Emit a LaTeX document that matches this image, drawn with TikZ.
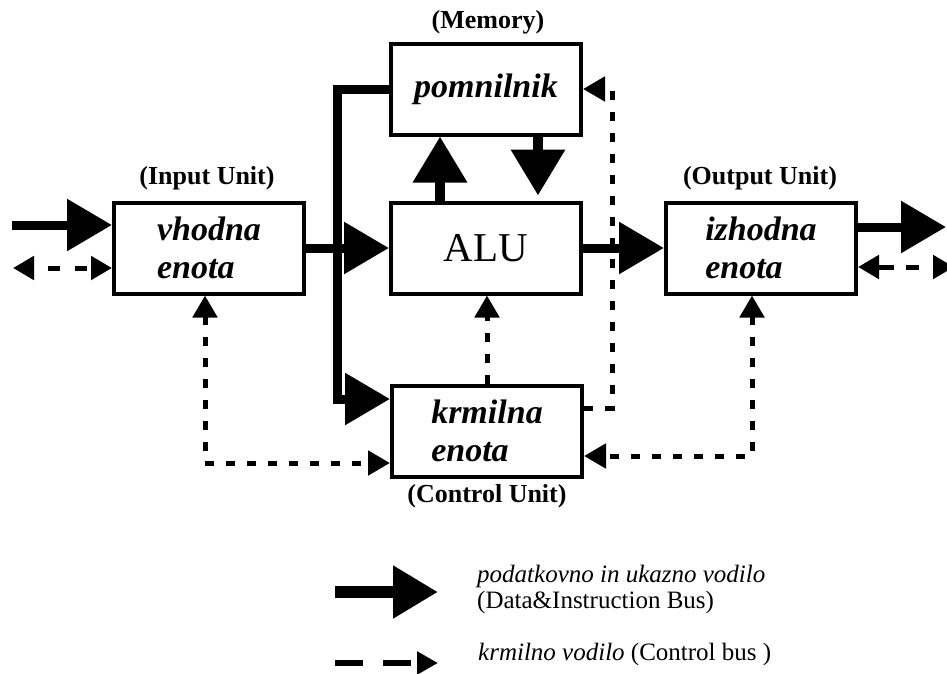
\documentclass[tikz,border=0pt]{standalone}
\usepackage{fontspec}
\setmainfont{Liberation Serif}
\usetikzlibrary{arrows.meta}

\tikzset{
  BTip/.tip={Triangle[length=45pt,width=50pt]},
  MTip/.tip={Triangle[length=46pt,width=52pt]},
  CTip/.tip={Triangle[length=22pt,width=24pt]},
  STip/.tip={Triangle[length=21pt,width=23pt]},
  unit/.style={draw, line width=4pt, minimum width=190pt, minimum height=91pt,
    inner sep=0pt, align=left, font=\fontsize{34}{38}\selectfont\bfseries\itshape},
  caption/.style={inner sep=0pt, font=\fontsize{26}{30}\selectfont\bfseries},
  databus/.style={line width=9pt, -BTip},
  membus/.style={line width=10pt, -MTip},
  ctrlbus/.style={line width=5pt, dash pattern=on 9pt off 12pt},
  iobus/.style={line width=5pt, STip-STip},
  legendtext/.style={inner sep=0pt, align=left,
    font=\fontsize{25}{26}\selectfont},
}

\begin{document}
\begin{tikzpicture}[x=1pt, y=-1pt]
  \clip (0,0) rectangle (947,673);

  % units
  \node[unit] (in)  at (209,248) {vhodna\\enota};
  \node[unit] (mem) at (486,89)  {pomnilnik};
  \node[unit, font=\fontsize{41}{45}\selectfont] (alu) at (486,248) {ALU};
  \node[unit] (out) at (761,248) {izhodna\\enota};
  \node[unit] (ctl) at (487,431) {krmilna\\enota};

  % captions
  \node[caption] (capin)  at (207,178) {(Input Unit)};
  \node[caption] (capmem) at (488,22)  {(Memory)};
  \node[caption] (capout) at (760,178) {(Output Unit)};
  \node[caption] (capctl) at (487,496) {(Control Unit)};

  % helper points of the buses
  \coordinate (inA)  at (12,225);
  \coordinate (inB)  at (13,268);
  \coordinate (outA) at (946,227);
  \coordinate (outB) at (954,267);
  \coordinate (busx) at (337,399);
  \coordinate (upx)  at (440,0);
  \coordinate (dnx)  at (538,0);
  \coordinate (c1)   at (205,463);
  \coordinate (c2)   at (752,456);
  \coordinate (c3)   at (612,408);
  \coordinate (c4)   at (612,89);

  % data & instruction bus
  \draw[databus] (inA) -- (inA -| in.west);
  \draw[databus] (in.east) -- (alu.west);
  \draw[databus] (alu.east) -- (out.west);
  \draw[databus] (outA -| out.east) -- (outA);
  \draw[line width=9pt, -BTip] (mem.west) -| (busx) -- (busx -| ctl.west);
  \draw[membus] (alu.north -| upx) -- (mem.south -| upx);
  \draw[membus, shorten >=5pt] (mem.south -| dnx) -- (alu.north -| dnx);

  % control bus
  \draw[iobus, dash pattern=on 12pt off 15pt, dash phase=12pt] (inB) -- (inB -| in.west);
  \draw[iobus, dash pattern=on 16pt off 12pt on 13pt off 15pt] (outB -| out.east) -- (outB);
  \draw[ctrlbus, -CTip] (ctl.north) -- (ctl.north |- alu.south);
  \draw[ctrlbus, CTip-CTip] (in.south -| c1) -- (c1) -- (c1 -| ctl.west);
  \draw[ctrlbus, CTip-CTip] (out.south -| c2) -- (c2) -- (c2 -| ctl.east);
  \draw[ctrlbus, -CTip] (c3 -| ctl.east) -- (c3) -- (c4) -- (c4 -| mem.east);

  % legend
  \coordinate (lgA) at (335,592);
  \coordinate (lgB) at (438,592);
  \coordinate (lgC) at (335,663);
  \coordinate (lgD) at (438,663);
  \draw[line width=12pt, -BTip] (lgA) -- (lgB);
  \draw[line width=6pt, dash pattern=on 28pt off 20pt, -{Triangle[length=21pt,width=22pt]}] (lgC) -- (lgD);
  \node[legendtext, anchor=west] (lgt1) at (477,589) {\textit{podatkovno in ukazno vodilo}\\(Data\&Instruction Bus)};
  \node[legendtext, anchor=base west] (lgt2) at (478,660) {\textit{krmilno vodilo} (Control bus )};
\end{tikzpicture}
\end{document}
